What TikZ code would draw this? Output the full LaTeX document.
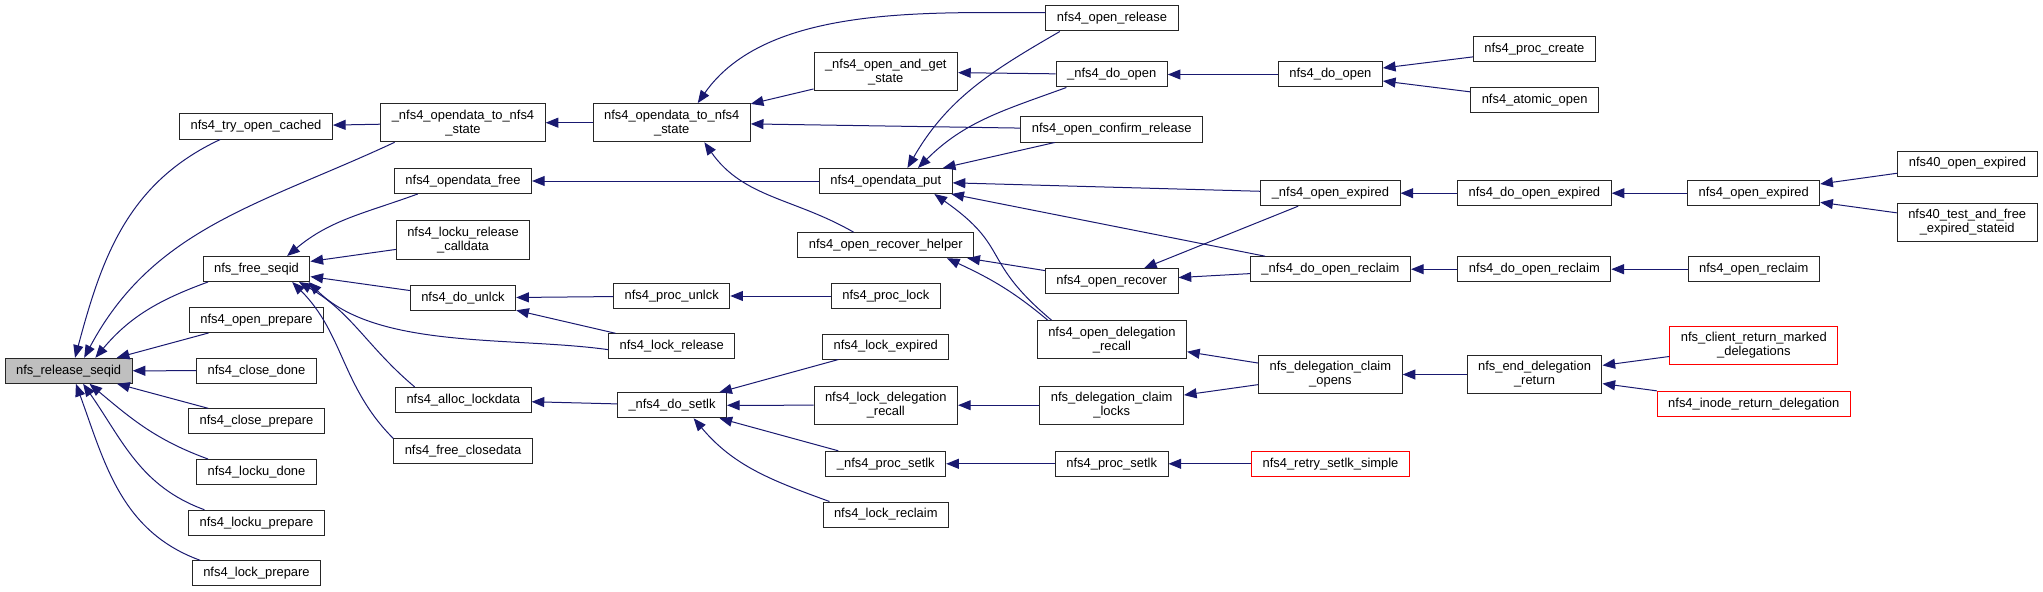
\documentclass[tikz,border=0pt]{standalone}
\usepackage{fontspec}
\setmainfont{Liberation Sans}
\usepackage{tikz}
\usetikzlibrary{arrows.meta}
\definecolor{midnight}{HTML}{191970}
\definecolor{grey75}{HTML}{BFBFBF}

\begin{document}
\begin{tikzpicture}[x=0.75pt,y=0.75pt,
  every node/.style={draw=black!85, line width=0.75pt, fill=white, align=center, inner xsep=8.25pt, inner ysep=4.6pt, minimum height=18.75pt, font=\fontsize{9.7}{10.5}\selectfont},
  root/.style={fill=grey75},
  ext/.style={draw=red},
  arr/.style={draw=midnight, line width=0.75pt, {Triangle[length=9.5pt,width=7.5pt]}-}]
  \useasboundingbox (0,0) rectangle (2043,-592);

  \node[root] (relseq) at (68.7,-370.8) {nfs\_release\_seqid};

  \node (tryopen) at (256,-126.5) {nfs4\_try\_open\_cached};
  \node (fseq) at (256.5,-269) {nfs\_free\_seqid};
  \node (oprep) at (256.5,-320) {nfs4\_open\_prepare};
  \node (cdone) at (256.5,-370.7) {nfs4\_close\_done};
  \node (cprep) at (256.5,-421.3) {nfs4\_close\_prepare};
  \node (ludone) at (256.5,-472) {nfs4\_locku\_done};
  \node (luprep) at (256.5,-522.7) {nfs4\_locku\_prepare};
  \node (lprep) at (256.5,-573.3) {nfs4\_lock\_prepare};

  \node (op2s) at (463,-122.7) {\_nfs4\_opendata\_to\_nfs4\\\_state};
  \node (ofree) at (463,-181) {nfs4\_opendata\_free};
  \node (lrc) at (463,-240) {nfs4\_locku\_release\\\_calldata};
  \node (dounlck) at (463,-298) {nfs4\_do\_unlck};
  \node (alloc) at (463.3,-400) {nfs4\_alloc\_lockdata};
  \node (fclose) at (463,-450.7) {nfs4\_free\_closedata};

  \node (opto) at (671.7,-122.7) {nfs4\_opendata\_to\_nfs4\\\_state};
  \node (punlck) at (671.7,-296) {nfs4\_proc\_unlck};
  \node (lrel) at (671.7,-346.3) {nfs4\_lock\_release};
  \node (dosetlk) at (672,-405.3) {\_nfs4\_do\_setlk};

  \node (oags) at (885.8,-71.8) {\_nfs4\_open\_and\_get\\\_state};
  \node (oput) at (885.8,-181) {nfs4\_opendata\_put};
  \node (orh) at (885.8,-245.2) {nfs4\_open\_recover\_helper};
  \node (plock) at (885.8,-296) {nfs4\_proc\_lock};
  \node (lexp) at (885.8,-346.5) {nfs4\_lock\_expired};
  \node (ldr) at (885.8,-405.2) {nfs4\_lock\_delegation\\\_recall};
  \node (psetlk) at (885.8,-463.8) {\_nfs4\_proc\_setlk};
  \node (lrecl) at (885.8,-514.5) {nfs4\_lock\_reclaim};

  \node (orel) at (1112,-18.5) {nfs4\_open\_release};
  \node (dopen) at (1111.7,-74.5) {\_nfs4\_do\_open};
  \node (ocr) at (1111.7,-129.5) {nfs4\_open\_confirm\_release};
  \node (orec) at (1111.7,-281.2) {nfs4\_open\_recover};
  \node (odr) at (1111.9,-339.8) {nfs4\_open\_delegation\\\_recall};
  \node (dcl) at (1111.7,-405.2) {nfs\_delegation\_claim\\\_locks};
  \node (npsetlk) at (1111.7,-463.8) {nfs4\_proc\_setlk};

  \node (ndo) at (1330.4,-74.5) {nfs4\_do\_open};
  \node (oexp) at (1330.4,-193.2) {\_nfs4\_open\_expired};
  \node (dorecl) at (1330.5,-269.2) {\_nfs4\_do\_open\_reclaim};
  \node (dco) at (1330.4,-374.5) {nfs\_delegation\_claim\\\_opens};
  \node[ext] (retry) at (1330.5,-463.8) {nfs4\_retry\_setlk\_simple};

  \node (pcreate) at (1534.4,-49.3) {nfs4\_proc\_create};
  \node (aopen) at (1534.6,-99.8) {nfs4\_atomic\_open};
  \node (doexp) at (1534.4,-193.2) {nfs4\_do\_open\_expired};
  \node (ndorecl) at (1534.4,-269.2) {nfs4\_do\_open\_reclaim};
  \node (ndr) at (1534.5,-374.5) {nfs\_end\_delegation\\\_return};

  \node (nexp) at (1753.7,-193.2) {nfs4\_open\_expired};
  \node (norecl) at (1753.7,-269.2) {nfs4\_open\_reclaim};
  \node[ext] (crmd) at (1753.8,-345.2) {nfs\_client\_return\_marked\\\_delegations};
  \node[ext] (ird) at (1753.8,-403.8) {nfs4\_inode\_return\_delegation};

  \node (n40exp) at (1967.4,-163.5) {nfs40\_open\_expired};
  \node (n40test) at (1967.2,-222.5) {nfs40\_test\_and\_free\\\_expired\_stateid};

  \foreach \a/\b in {relseq/oprep, relseq/cdone, relseq/cprep, tryopen/op2s, op2s/opto,
      opto/oags, opto/ocr, oags/dopen, dopen/ndo, ndo/pcreate, ndo/aopen, fseq/lrc,
      fseq/dounlck, ofree/oput, oput/ocr, oput/oexp, oput/dorecl, dounlck/punlck,
      dounlck/lrel, punlck/plock, alloc/dosetlk, dosetlk/lexp, dosetlk/ldr, dosetlk/psetlk,
      orh/orec, orec/oexp, orec/dorecl, ldr/dcl, odr/dco, dcl/dco, psetlk/npsetlk,
      oexp/doexp, dorecl/ndorecl, dco/ndr, npsetlk/retry, doexp/nexp, ndorecl/norecl,
      ndr/crmd, ndr/ird, nexp/n40exp, nexp/n40test}
    \draw[arr] (\a) -- (\b);

  \draw[arr] (relseq.64) to[out=75,in=205] (tryopen.200);
  \draw[arr] (relseq.40) to[out=62,in=205] (op2s.196);
  \draw[arr] (relseq.26) to[out=50,in=200] (fseq.195);
  \draw[arr] (relseq.-32) to[out=-40,in=160] (ludone.165);
  \draw[arr] (relseq.-42) to[out=-55,in=160] (luprep.166);
  \draw[arr] (relseq.-61) to[out=-70,in=160] (lprep.167);
  \draw[arr] (opto.37) to[out=55,in=180,looseness=0.85] (orel.175);
  \draw[arr] (opto.-31) to[out=-55,in=150] (orh.158);
  \draw[arr] (fseq.23) to[out=40,in=200] (ofree.196);
  \draw[arr] (fseq.-14) to[out=-45,in=172,looseness=0.8] (lrel.183);
  \draw[arr] (fseq.-17) to[out=-30,in=140] (alloc.165);
  \draw[arr] (fseq.-20) to[out=-45,in=135] (fclose.170);
  \draw[arr] (oput.31) to[out=60,in=210] (orel.194);
  \draw[arr] (oput.22) to[out=45,in=200] (dopen.196);
  \draw[arr] (oput.-15) to[out=-35,in=140,looseness=1.4] (odr.162);
  \draw[arr] (orh.-12) to[out=-25,in=140] (odr.163);
  \draw[arr] (dosetlk.-31) to[out=-50,in=160] (lrecl.167);
\end{tikzpicture}
\end{document}
